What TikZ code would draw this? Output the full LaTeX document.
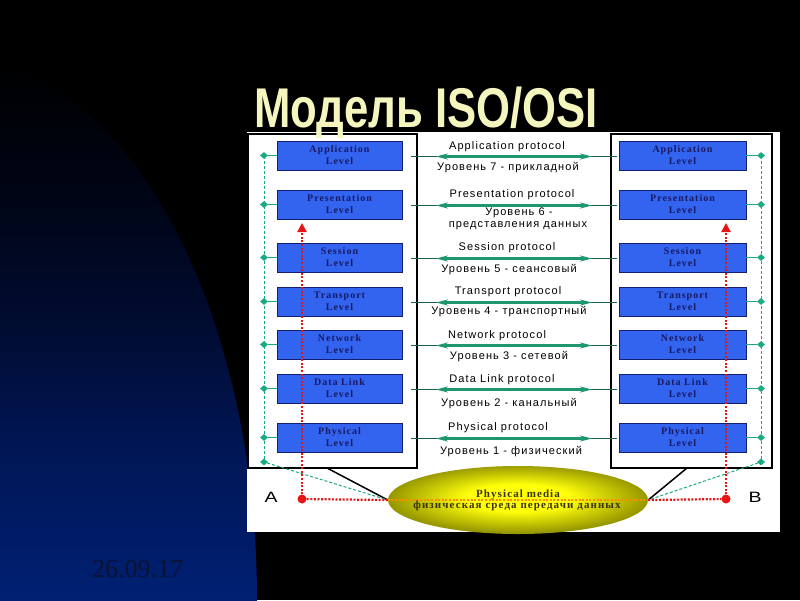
\documentclass[tikz,border=0pt]{standalone}
\usepackage{fontspec}
\usepackage{graphicx}
\setmainfont{Liberation Serif}
\setsansfont{Liberation Sans}
\newfontfamily\arialf[LetterSpace=10]{Liberation Sans}
\newfontfamily\timesf[LetterSpace=10]{Liberation Serif}
\usetikzlibrary{shapes.geometric,arrows.meta}
\definecolor{lvlblue}{RGB}{50,100,240}
\definecolor{lvlborder}{RGB}{20,30,110}
\definecolor{lvltext}{RGB}{25,25,100}
\definecolor{teal1}{RGB}{25,170,130}
\definecolor{teal2}{RGB}{30,150,110}
\definecolor{tealdark}{RGB}{25,95,75}
\definecolor{redd}{RGB}{230,20,20}
\definecolor{orng}{RGB}{255,140,0}
\definecolor{titley}{RGB}{245,245,190}
\definecolor{dategray}{RGB}{12,18,50}
\definecolor{bgblue}{RGB}{0,32,115}
\definecolor{bglow}{RGB}{0,22,85}
\definecolor{bgmid}{RGB}{0,12,50}
\definecolor{bgtop}{RGB}{0,5,22}
\definecolor{medtext}{RGB}{60,50,10}
\definecolor{medin}{RGB}{255,255,10}
\definecolor{medout}{RGB}{150,150,0}
\pgfdeclareradialshading{medshade}{\pgfpoint{0bp}{2bp}}{color(0bp)=(medin); color(10bp)=(medin); color(25bp)=(medout); color(50bp)=(medout)}
\pgfdeclareverticalshading{bgshade}{100bp}{color(0bp)=(bgblue); color(25bp)=(bgblue); color(39bp)=(bglow); color(50bp)=(bgmid); color(62bp)=(bgtop); color(75bp)=(black); color(100bp)=(black)}
\begin{document}
\begin{tikzpicture}[x=1pt,y=-1pt,
  lvl/.style={draw=lvlborder, line width=0.8pt, fill=lvlblue, minimum width=125pt, minimum height=29pt, inner sep=0pt, align=center, text=lvltext, font=\timesf\bfseries\fontsize{10}{12}\selectfont},
  dmd/.style={diamond, fill=teal1, inner sep=0pt, minimum width=8pt, minimum height=7pt},
  stackbox/.style={draw=black, line width=2.5pt, inner sep=0pt},
  proto/.style={font=\arialf\fontsize{11}{13}\selectfont, text=black, anchor=base, inner sep=0pt},
  tealdash/.style={teal1, line width=1pt, dash pattern=on 3pt off 2pt},
  reddots/.style={redd, line width=2.2pt, dash pattern=on 2pt off 1.6pt},
]
\useasboundingbox (0,0) rectangle (800,600);
\fill[black] (0,0) rectangle (800,600);
% blue background shape
\begin{scope}
\clip (-43,600) ellipse [x radius=300, y radius=540];
\shade[shading=bgshade] (-50,60) rectangle (300,600);
\end{scope}
% white panel
\fill[white] (247,132) rectangle (780,532);
% stacks
\node[stackbox, minimum width=169pt, minimum height=334pt] (leftbox) at (332.5,301) {};
\node[stackbox, minimum width=161pt, minimum height=334pt] (rightbox) at (691.5,301) {};
% vertical dashed teal lines
\coordinate (tL) at (264,155.5);
\coordinate (bL) at (264,462);
\coordinate (tR) at (761,155.5);
\coordinate (bR) at (761,462);
\draw[tealdash] (tL) -- (bL);
\draw[tealdash] (tR) -- (bR);
% levels
\foreach \n/\yc/\ta in {7/155.5/Application, 6/204.5/Presentation, 5/257.5/Session, 4/301.5/Transport, 3/344.5/Network, 2/388.5/Data Link, 1/437.5/Physical} {
  \node[lvl] (L\n) at (339.5,\yc) {\ta\\Level};
  \node[lvl, minimum width=127pt] (R\n) at (682.5,\yc) {\ta\\Level};
  \node[dmd] (dL\n) at (264,\yc) {};
  \node[dmd] (dR\n) at (761,\yc) {};
  \draw[teal1, line width=1pt] (dL\n) -- (L\n.west);
  \draw[teal1, line width=1pt] (R\n.east) -- (dR\n);
  \coordinate (pa\n) at (411,{\yc+1});
  \coordinate (pb\n) at (617,{\yc+1});
  \coordinate (pc\n) at (436,{\yc+1});
  \coordinate (pd\n) at (592,{\yc+1});
  \draw[tealdark, line width=0.9pt] (pa\n) -- (pb\n);
  \draw[teal2, line width=2.6pt, {Stealth[length=12pt,width=6pt]}-{Stealth[length=12pt,width=6pt]}] (pc\n) -- (pd\n);
}
\node[dmd] (dLb) at (bL) {};
\node[dmd] (dRb) at (bR) {};
% protocol labels
\node[proto] (t7a) at (507,149) {Application protocol};
\node[proto] (t7b) at (508,170) {Уровень 7 - прикладной};
\node[proto] (t6a) at (512,197) {Presentation protocol};
\node[proto] (t6b) at (519,215) {Уровень 6 -};
\node[proto] (t6c) at (518,227) {представления данных};
\node[proto] (t5a) at (507,250) {Session protocol};
\node[proto] (t5b) at (509,272) {Уровень 5 - сеансовый};
\node[proto] (t4a) at (508,294) {Transport protocol};
\node[proto] (t4b) at (509,314) {Уровень 4 - транспортный};
\node[proto] (t3a) at (497,338) {Network protocol};
\node[proto] (t3b) at (509,359) {Уровень 3 - сетевой};
\node[proto] (t2a) at (502,382) {Data Link protocol};
\node[proto] (t2b) at (509,406) {Уровень 2 - канальный};
\node[proto] (t1a) at (498,430) {Physical protocol};
\node[proto] (t1b) at (511,454) {Уровень 1 - физический};
% physical media
\coordinate (lbA) at (327,468);
\coordinate (rbB) at (687,468);
\node[ellipse, minimum width=260pt, minimum height=68pt, inner sep=0pt, shading=medshade] (media) at (518,500) {};
\draw[black, line width=1.5pt] (lbA) -- (media.west);
\draw[black, line width=1.5pt] (rbB) -- (media.east);
\draw[tealdash] (dLb) -- (media.west);
\draw[tealdash] (dRb) -- (media.east);
\draw[orng, line width=2pt, dash pattern=on 2pt off 1.6pt] (media.west) -- (media.east);
\node[font=\timesf\bfseries\fontsize{11}{13}\selectfont, text=medtext, anchor=base, inner sep=0pt] (mt1) at (518,497) {Physical media};
\node[font=\timesf\bfseries\fontsize{11}{13}\selectfont, text=medtext, anchor=base, inner sep=0pt] (mt2) at (517,508) {физическая среда передачи данных};
% red paths
\node[circle, fill=redd, minimum size=9pt, inner sep=0pt] (dotA) at (302,499) {};
\node[circle, fill=redd, minimum size=9pt, inner sep=0pt] (dotB) at (726,499) {};
\coordinate (tipA) at (302,223);
\coordinate (tipB) at (726,223);
\draw[reddots, -{Triangle[length=9pt,width=9pt]}] (dotA) -- (tipA);
\draw[reddots, -{Triangle[length=9pt,width=9pt]}] (dotB) -- (tipB);
\draw[reddots] (dotA) -- (media.west);
\draw[reddots] (media.east) -- (dotB);
% A and B
\node[font=\sffamily\fontsize{15}{15}\selectfont, inner sep=0pt] (labA) at (271,497) {\scalebox{1.3}[1]{A}};
\node[font=\sffamily\fontsize{15}{15}\selectfont, inner sep=0pt] (labB) at (755,497) {\scalebox{1.3}[1]{B}};
% title and date
\node[anchor=base, text=titley, font=\sffamily\bfseries\fontsize{56}{60}\selectfont, inner sep=0pt] (title) at (426,127) {\scalebox{0.78}[1]{Модель ISO/OSI}};
\node[anchor=base, text=dategray, font=\rmfamily\fontsize{26}{30}\selectfont, inner sep=0pt] (date) at (137.5,577) {26.09.17};
\end{tikzpicture}
\end{document}
